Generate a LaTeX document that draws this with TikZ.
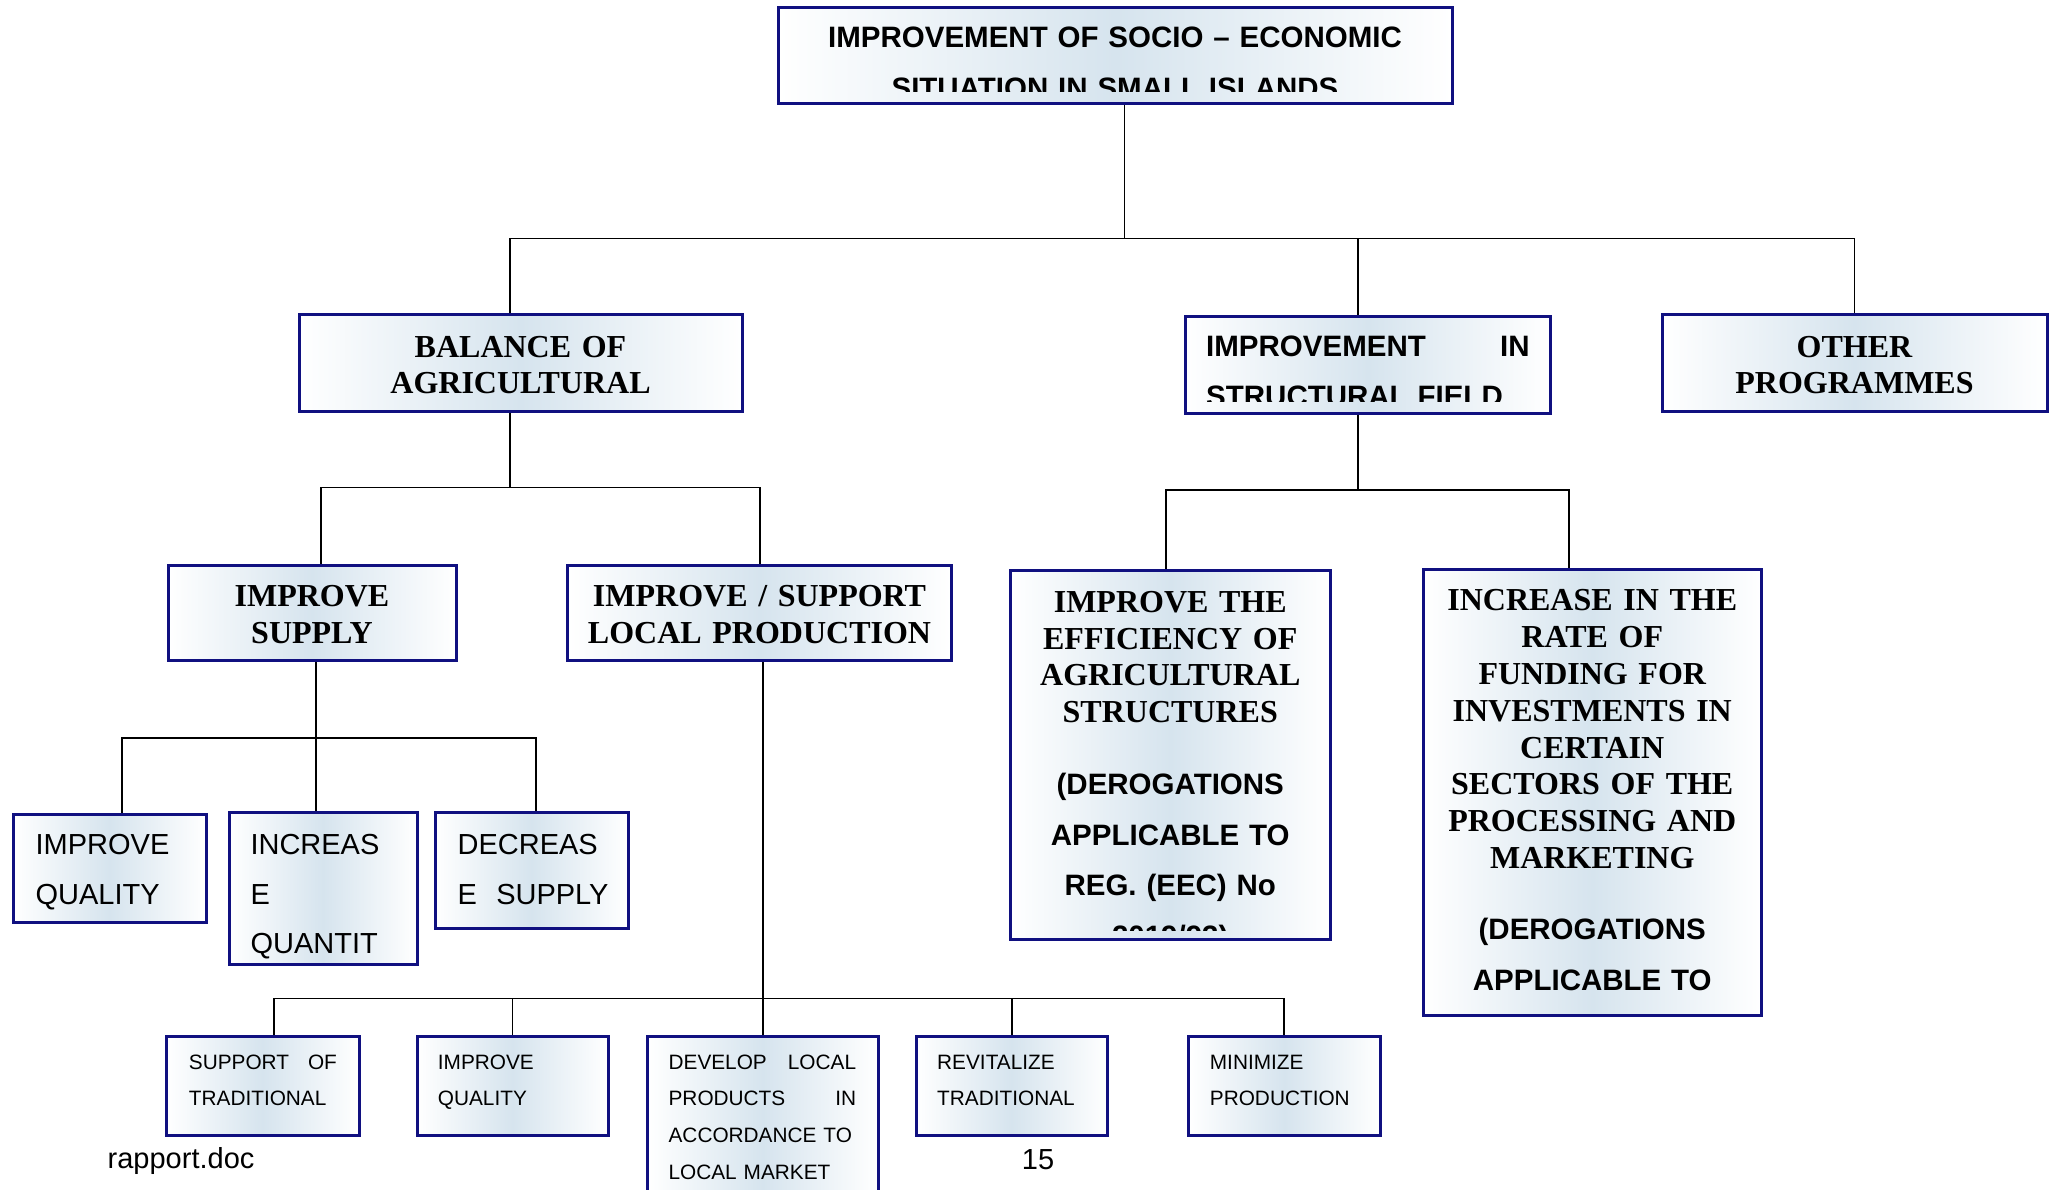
\documentclass[tikz,border=0pt]{standalone}
\usepackage{fontspec}
\setmainfont{Liberation Serif}
\newfontfamily\arialf{Liberation Sans}
\newfontfamily\timesf{Liberation Serif}
\definecolor{navy}{RGB}{16,16,128}
\definecolor{shadeblue}{RGB}{214,228,238}
\begin{document}
\begin{tikzpicture}[x=1pt,y=-1pt,
  box/.style={draw=navy, line width=3pt, left color=white, right color=white, middle color=shadeblue, rectangle, inner sep=0},
  wire/.style={draw=black, line width=1.5pt},
  tx/.style={inner sep=0, anchor=base, align=center},
  txl/.style={inner sep=0, anchor=base west, align=left},
  bigserif/.style={font=\timesf\bfseries\fontsize{32}{36.6}\selectfont},
  midsans/.style={font=\arialf\fontsize{29}{49.5}\selectfont},
  smallsans/.style={font=\arialf\fontsize{20.8}{36.7}\selectfont},
]
\useasboundingbox (0,0) rectangle (2055,1189);

% ---------- boxes ----------
\node[box, minimum width=674pt, minimum height=96pt] (top) at (1115,55.5) {};
\node[box, minimum width=443pt, minimum height=97pt] (bal) at (520.5,363) {};
\node[box, minimum width=365.5pt, minimum height=97pt] (impr) at (1367.75,364.5) {};
\node[box, minimum width=385pt, minimum height=97pt] (other) at (1854.5,363) {};
\node[box, minimum width=288pt, minimum height=95.5pt] (isup) at (312,612.75) {};
\node[box, minimum width=384pt, minimum height=95.5pt] (ilp) at (759.5,612.75) {};
\node[box, minimum width=319.5pt, minimum height=369.5pt] (eff) at (1170.25,754.75) {};
\node[box, minimum width=338.5pt, minimum height=446.5pt] (incr) at (1592.25,792.25) {};
\node[box, minimum width=193pt, minimum height=108.5pt] (iq) at (109.5,868.25) {};
\node[box, minimum width=188pt, minimum height=152pt] (iqty) at (323,888.5) {};
\node[box, minimum width=193pt, minimum height=115.5pt] (dsup) at (531.5,870.25) {};
\node[box, minimum width=192.5pt, minimum height=98.5pt] (sot) at (262.75,1085.75) {};
\node[box, minimum width=191pt, minimum height=98.5pt] (iqb) at (512.5,1085.75) {};
\node[box, minimum width=230.5pt, minimum height=203.5pt] (dev) at (762.75,1138.25) {};
\node[box, minimum width=191.5pt, minimum height=98.5pt] (rev) at (1011.75,1085.75) {};
\node[box, minimum width=191.5pt, minimum height=98.5pt] (mini) at (1284.25,1085.75) {};

% ---------- connectors ----------
\coordinate (j0) at (1124.5,238.5);
\coordinate (jb) at (510,238.5);
\coordinate (ji) at (1358,238.5);
\coordinate (jo) at (1854.5,238.5);
\draw[wire] (j0 |- top.south) -- (j0);
\draw[wire] (jb |- bal.north) -- (jb) -- (jo) -- (jo |- other.north);
\draw[wire] (ji) -- (ji |- impr.north);

\coordinate (k0) at (510,487.5);
\coordinate (ks) at (321,487.5);
\coordinate (kl) at (760,487.5);
\draw[wire] (k0 |- bal.south) -- (k0);
\draw[wire] (ks |- isup.north) -- (ks) -- (kl) -- (kl |- ilp.north);

\coordinate (m0) at (1358,490);
\coordinate (me) at (1166,490);
\coordinate (mi) at (1569,490);
\draw[wire] (m0 |- impr.south) -- (m0);
\draw[wire] (me |- eff.north) -- (me) -- (mi) -- (mi |- incr.north);

\coordinate (n0) at (316,738);
\coordinate (n1) at (122,738);
\coordinate (n3) at (536,738);
\draw[wire] (n0 |- isup.south) -- (n0) -- (n0 |- iqty.north);
\draw[wire] (n1 |- iq.north) -- (n1) -- (n3) -- (n3 |- dsup.north);

\coordinate (p0) at (763,998.5);
\coordinate (p1) at (274,998.5);
\coordinate (p2) at (512.5,998.5);
\coordinate (p4) at (1012,998.5);
\coordinate (p5) at (1284,998.5);
\draw[wire] (p0 |- ilp.south) -- (p0) -- (p0 |- dev.north);
\draw[wire] (p1 |- sot.north) -- (p1) -- (p5) -- (p5 |- mini.north);
\draw[wire] (p2) -- (p2 |- iqb.north);
\draw[wire] (p4) -- (p4 |- rev.north);

% ---------- texts ----------
\begin{scope}
\clip (778,8) rectangle (1452,91.7);
\node[tx, font=\arialf\bfseries\fontsize{29.5}{50.7}\selectfont, text width=660pt] (topt) at (1115,47.3) {IMPROVEMENT OF SOCIO – ECONOMIC\\SITUATION IN SMALL ISLANDS};
\end{scope}

\node[tx, bigserif, text width=420pt] (balt) at (520.5,357) {BALANCE OF\\AGRICULTURAL};

\begin{scope}
\clip (1185,317) rectangle (1550.5,401);
\node[txl, font=\arialf\bfseries\fontsize{29.5}{49.5}\selectfont, text width=323.5pt] (imprt) at (1206,356.5) {\makebox[323.5pt]{IMPROVEMENT\hfill IN}\\STRUCTURAL FIELD};
\end{scope}

\node[tx, bigserif, text width=370pt] (othert) at (1854.5,357) {OTHER\\PROGRAMMES};

\node[tx, bigserif, text width=270pt] (isupt) at (312,606.6) {IMPROVE\\SUPPLY};
\node[tx, bigserif, text width=370pt] (ilpt) at (759.5,606.6) {IMPROVE / SUPPORT\\LOCAL PRODUCTION};

\begin{scope}
\clip (1010.5,570) rectangle (1330,930);
\node[tx, bigserif, text width=300pt] (efft) at (1170.25,612.5) {IMPROVE THE\\EFFICIENCY OF\\AGRICULTURAL\\STRUCTURES};
\node[tx, font=\arialf\bfseries\fontsize{29.5}{50.5}\selectfont, text width=300pt] (effd) at (1170.25,794.5) {(DEROGATIONS\\APPLICABLE TO\\REG. (EEC) No\\2019/93)};
\end{scope}

\begin{scope}
\clip (1423,569) rectangle (1761.5,1012);
\node[tx, font=\timesf\bfseries\fontsize{32}{36.8}\selectfont, text width=320pt] (incrt) at (1592.25,610.8) {INCREASE IN THE\\RATE OF\\FUNDING FOR\\INVESTMENTS IN\\CERTAIN\\SECTORS OF THE\\PROCESSING AND\\MARKETING};
\node[tx, font=\arialf\bfseries\fontsize{29.5}{51}\selectfont, text width=320pt] (incrd) at (1592.25,939) {(DEROGATIONS\\APPLICABLE TO\\REG. (EEC) No};
\end{scope}

\node[txl, midsans, text width=165pt] (iqt) at (35.4,854.5) {IMPROVE\\QUALITY};
\node[txl, midsans, text width=165pt] (iqtyt) at (250.3,854.5) {INCREAS\\E\\QUANTIT};
\node[txl, midsans, text width=165pt] (dsupt) at (457.4,854.5) {DECREAS\\E\ \ SUPPLY};

\node[txl, smallsans, text width=160pt] (sott) at (188.7,1069) {\makebox[148pt]{SUPPORT\hfill OF}\\TRADITIONAL};
\node[txl, smallsans, text width=160pt] (iqbt) at (437.7,1069) {IMPROVE\\QUALITY};
\node[txl, smallsans, text width=200pt] (devt) at (668.4,1069) {\makebox[187.5pt]{DEVELOP\hfill LOCAL}\\\makebox[187.5pt]{PRODUCTS\hfill IN}\\\makebox[187.5pt][s]{ACCORDANCE TO}\\LOCAL MARKET};
\node[txl, smallsans, text width=170pt] (revt) at (937,1069) {REVITALIZE\\TRADITIONAL};
\node[txl, smallsans, text width=170pt] (minit) at (1209.7,1069) {MINIMIZE\\PRODUCTION};

% ---------- footer ----------
\node[anchor=base west, inner sep=0, font=\arialf\fontsize{29}{34}\selectfont] (foot) at (107.5,1168) {rapport.doc};
\node[anchor=base, inner sep=0, font=\arialf\fontsize{29}{34}\selectfont] (pageno) at (1038,1169) {15};
\end{tikzpicture}
\end{document}
